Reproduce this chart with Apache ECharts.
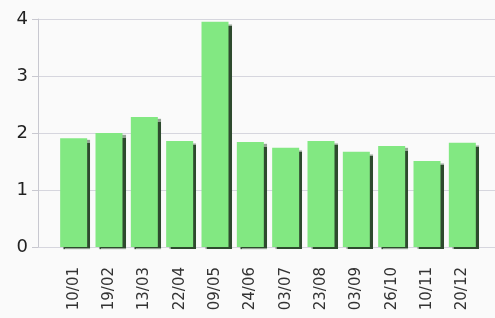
<!DOCTYPE html>
<html>
<head>
<meta charset="utf-8">
<script src="https://cdn.jsdelivr.net/npm/echarts@6/dist/echarts.min.js"></script>
<style>
  html, body { margin: 0; padding: 0; background: #fafafa; }
  #chart { width: 495px; height: 318px; }
</style>
</head>
<body>
<div id="chart"></div>
<script>
const dates = ['10/01', '19/02', '13/03', '22/04', '09/05', '24/06',
  '03/07', '23/08', '03/09', '26/10', '10/11', '20/12'];
const values = [1.91, 2.0, 2.28, 1.86, 3.95, 1.84, 1.74, 1.86, 1.67, 1.77, 1.51, 1.83];
const yTicks = [0, 1, 2, 3, 4];

const myChart = echarts.init(document.getElementById('chart'));

const option = {
  backgroundColor: '#fafafa',
  animation: false,
  grid: [
    // grid 0: value axis + grid lines over full width
    { left: 38, right: 0, top: 19, bottom: 71 },
    // grid 1: the bars
    { left: 56, right: 15, top: 19, bottom: 71 }
  ],
  xAxis: [
    { gridIndex: 0, type: 'category', data: [''], show: false },
    {
      gridIndex: 1,
      type: 'category',
      data: dates,
      axisLine: { show: false },
      axisTick: { show: false },
      axisLabel: {
        rotate: 90,
        margin: 20,
        fontSize: 15,
        fontFamily: 'DejaVu Sans',
        color: '#333'
      }
    }
  ],
  yAxis: [
    {
      gridIndex: 0,
      type: 'value',
      min: yTicks[0],
      max: yTicks[yTicks.length - 1],
      interval: 1,
      axisLine: { show: true, lineStyle: { color: '#c8c8d0' } },
      axisTick: { show: true, length: 6, lineStyle: { color: '#c8c8d0' } },
      splitLine: { show: true, lineStyle: { color: '#d6d6de' } },
      axisLabel: {
        margin: 10,
        fontSize: 18,
        fontFamily: 'DejaVu Sans',
        color: '#222'
      }
    },
    {
      gridIndex: 1,
      type: 'value',
      min: yTicks[0],
      max: yTicks[yTicks.length - 1],
      show: false
    }
  ],
  series: [
    {
      type: 'bar',
      xAxisIndex: 1,
      yAxisIndex: 1,
      data: values,
      barWidth: 27,
      itemStyle: {
        color: '#82e882',
        shadowColor: '#2e4a2e',
        shadowOffsetX: 3,
        shadowOffsetY: 2,
        shadowBlur: 1
      }
    }
  ]
};

myChart.setOption(option);
</script>
</body>
</html>
